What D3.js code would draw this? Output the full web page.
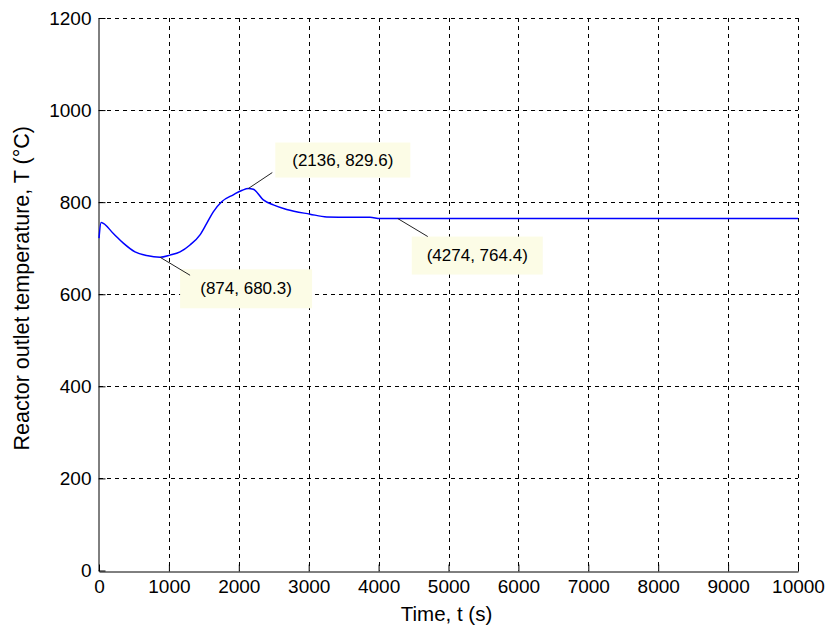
<!DOCTYPE html>
<html>
<head>
<meta charset="utf-8">
<script src="https://cdn.jsdelivr.net/npm/d3@7"></script>
<style>
  html, body { margin: 0; padding: 0; background: #fff; }
  svg { display: block; }
  text { font-family: "Liberation Sans", Arial, sans-serif; fill: #000; }
</style>
</head>
<body>
<svg id="chart" width="831" height="635"></svg>
<script>
// ---- data ----
const timeValues = [0, 30, 205, 348, 515, 682, 874, 1016, 1159, 1302, 1445, 1541, 1635, 1755, 1921, 2050, 2136, 2208, 2351, 2494, 2685, 3019, 3257, 3600, 3877, 4020, 4274, 6000, 8000, 10000];
const tempValues = [722, 756, 732, 711, 692, 684, 680.3, 685, 692, 707, 729, 754, 779, 801, 816, 826, 829.6, 828, 805, 794, 784, 774, 768, 767, 767, 764.6, 764.4, 764.4, 764.4, 764.4];
const xTicks = [0, 1000, 2000, 3000, 4000, 5000, 6000, 7000, 8000, 9000, 10000];
const yTicks = [0, 200, 400, 600, 800, 1000, 1200];
const tipTimes = [874, 2136, 4274];
const tipTemps = [680.3, 829.6, 764.4];
const xLabel = "Time, t (s)";
const yLabel = "Reactor outlet temperature, T (\u00B0C)";

// ---- layout ----
const svg = d3.select("#chart");
const mLeft = 99, mRight = 798, mTop = 18, mBottom = 570.5;

const x = d3.scaleLinear().domain([0, 10000]).range([mLeft, mRight]);
const y = d3.scaleLinear().domain([0, 1200]).range([mBottom, mTop]);

// grid
const grid = svg.append("g");
grid.selectAll("line.vx").data(xTicks.slice(1)).join("line")
  .attr("x1", d => Math.round(x(d)) + 0.5).attr("x2", d => Math.round(x(d)) + 0.5)
  .attr("y1", mTop).attr("y2", mBottom)
  .attr("stroke", "#000").attr("stroke-width", 1).attr("stroke-dasharray", "4,4");
grid.selectAll("line.hy").data(yTicks.slice(1)).join("line")
  .attr("y1", d => Math.round(y(d)) + 0.5).attr("y2", d => Math.round(y(d)) + 0.5)
  .attr("x1", mLeft).attr("x2", mRight)
  .attr("stroke", "#000").attr("stroke-width", 1).attr("stroke-dasharray", "4,4");

// axes
const xAxis = d3.axisBottom(x).tickValues(xTicks).tickSize(-7).tickPadding(12).tickSizeOuter(0)
  .tickFormat(d3.format("d"));
const yAxis = d3.axisLeft(y).tickValues(yTicks).tickSize(-7).tickPadding(7).tickSizeOuter(0)
  .tickFormat(d3.format("d"));

const gx = svg.append("g").attr("transform", `translate(0,${Math.round(mBottom)+0.5})`).call(xAxis);
const gy = svg.append("g").attr("transform", `translate(${mLeft - 0.5},0)`).call(yAxis);
[gx, gy].forEach(g => {
  g.select(".domain").attr("stroke", "#000").attr("stroke-width", 1);
  g.selectAll(".tick line").attr("stroke", "#000");
  g.selectAll(".tick text").attr("font-size", 19).attr("font-family", "Liberation Sans, Arial, sans-serif").attr("fill", "#000");
});
gx.selectAll(".tick text").attr("dy", "0.5em");

// line
const line = d3.line().x((d, i) => x(timeValues[i])).y((d, i) => y(tempValues[i])).curve(d3.curveMonotoneX);
svg.append("path").datum(tempValues)
  .attr("d", line).attr("fill", "none").attr("stroke", "#0000ff").attr("stroke-width", 1.5);

// data tips
const offsets = [ {bx: 20, by: 12, lx: 30, ly: 18}, {bx: 27, by: -46, lx: 24, ly: -16}, {bx: 14, by: 18, lx: 30, ly: 18} ];
const boxW = [132, 135, 131], boxH = [39, 35, 38];
tipTimes.forEach((t, i) => {
  const px = x(t), py = y(tipTemps[i]);
  const o = offsets[i];
  const bx = px + o.bx, by = py + o.by;
  const g = svg.append("g");
  g.append("rect").attr("x", bx).attr("y", by).attr("width", boxW[i]).attr("height", boxH[i])
    .attr("fill", "#fcfce6");
  g.append("line").attr("x1", px).attr("y1", py).attr("x2", px + o.lx).attr("y2", py + o.ly)
    .attr("stroke", "#222").attr("stroke-width", 1);
  g.append("text").attr("x", bx + boxW[i] / 2).attr("y", by + boxH[i] / 2)
    .attr("text-anchor", "middle").attr("dominant-baseline", "central")
    .attr("font-size", 17).text(`(${t}, ${tipTemps[i]})`);
});

// axis labels
svg.append("text").attr("x", (mLeft + mRight) / 2 - 2).attr("y", 621)
  .attr("text-anchor", "middle").attr("font-size", 20.5).text(xLabel);
svg.append("text").attr("transform", `translate(29,${(mTop + mBottom) / 2 - 6}) rotate(-90)`)
  .attr("text-anchor", "middle").attr("font-size", 21.5).text(yLabel);
</script>
</body>
</html>
